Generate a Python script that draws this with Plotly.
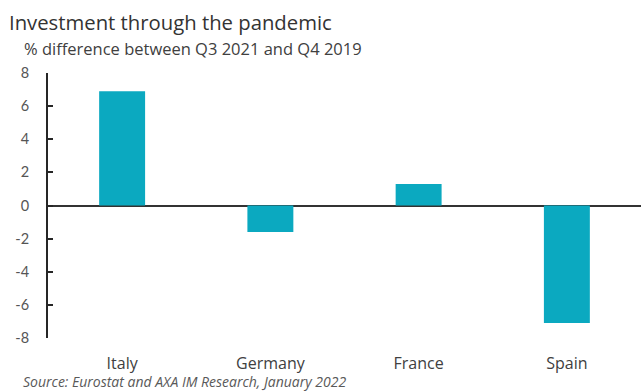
import plotly.graph_objects as go

countries = ["Italy", "Germany", "France", "Spain"]
values = [6.9, -1.6, 1.3, -7.1]
y_ticks = [-8, -6, -4, -2, 0, 2, 4, 6, 8]

title_text = "Investment through the pandemic"
subtitle_text = "% difference between Q3 2021 and Q4 2019"
source_text = "Source: Eurostat and AXA IM Research, January 2022"

FONT = "Lato"
FONT2 = "Open Sans"

fig = go.Figure()
fig.add_trace(go.Bar(
    x=countries, y=values,
    marker=dict(color="#0BA9C0", line=dict(width=0)),
    width=0.31,
))

fig.update_layout(
    width=641, height=392,
    margin=dict(l=48, r=0, t=73, b=54),
    paper_bgcolor="white", plot_bgcolor="white",
    showlegend=False,
    font=dict(family=FONT, color="#595959", size=14),
    xaxis=dict(
        range=[-0.5, 3.5], showline=False, showgrid=False, zeroline=False,
        ticks="", tickfont=dict(size=16, color="#404040", family=FONT2),
        ticklabelstandoff=14,
    ),
    yaxis=dict(
        range=[-8, 8], tickvals=y_ticks, ticktext=[str(v) for v in y_ticks],
        showgrid=False, showline=True, linecolor="#262626", linewidth=2,
        ticks="inside", ticklen=5, tickwidth=1.5, tickcolor="#262626",
        zeroline=True, zerolinecolor="#333333", zerolinewidth=2,
        tickfont=dict(size=14.5, color="#555555"),
        ticklabelstandoff=14,
    ),
)

fig.add_annotation(text=title_text, xref="paper", yref="paper",
                   x=-41/593, y=1 + (73-22)/265, xanchor="left", yanchor="middle",
                   showarrow=False, font=dict(size=20.3, color="#333333", family=FONT2))
fig.add_annotation(text=subtitle_text, xref="paper", yref="paper",
                   x=-26/593, y=1 + (73-48)/265, xanchor="left", yanchor="middle",
                   showarrow=False, font=dict(size=16.5, color="#404040", family=FONT2))
fig.add_annotation(text="<i>" + source_text + "</i>", xref="paper", yref="paper",
                   x=-27/593, y=-(381.5-338)/265, xanchor="left", yanchor="middle",
                   showarrow=False, font=dict(size=14, color="#595959", family=FONT2))

fig.write_html("out.html")
